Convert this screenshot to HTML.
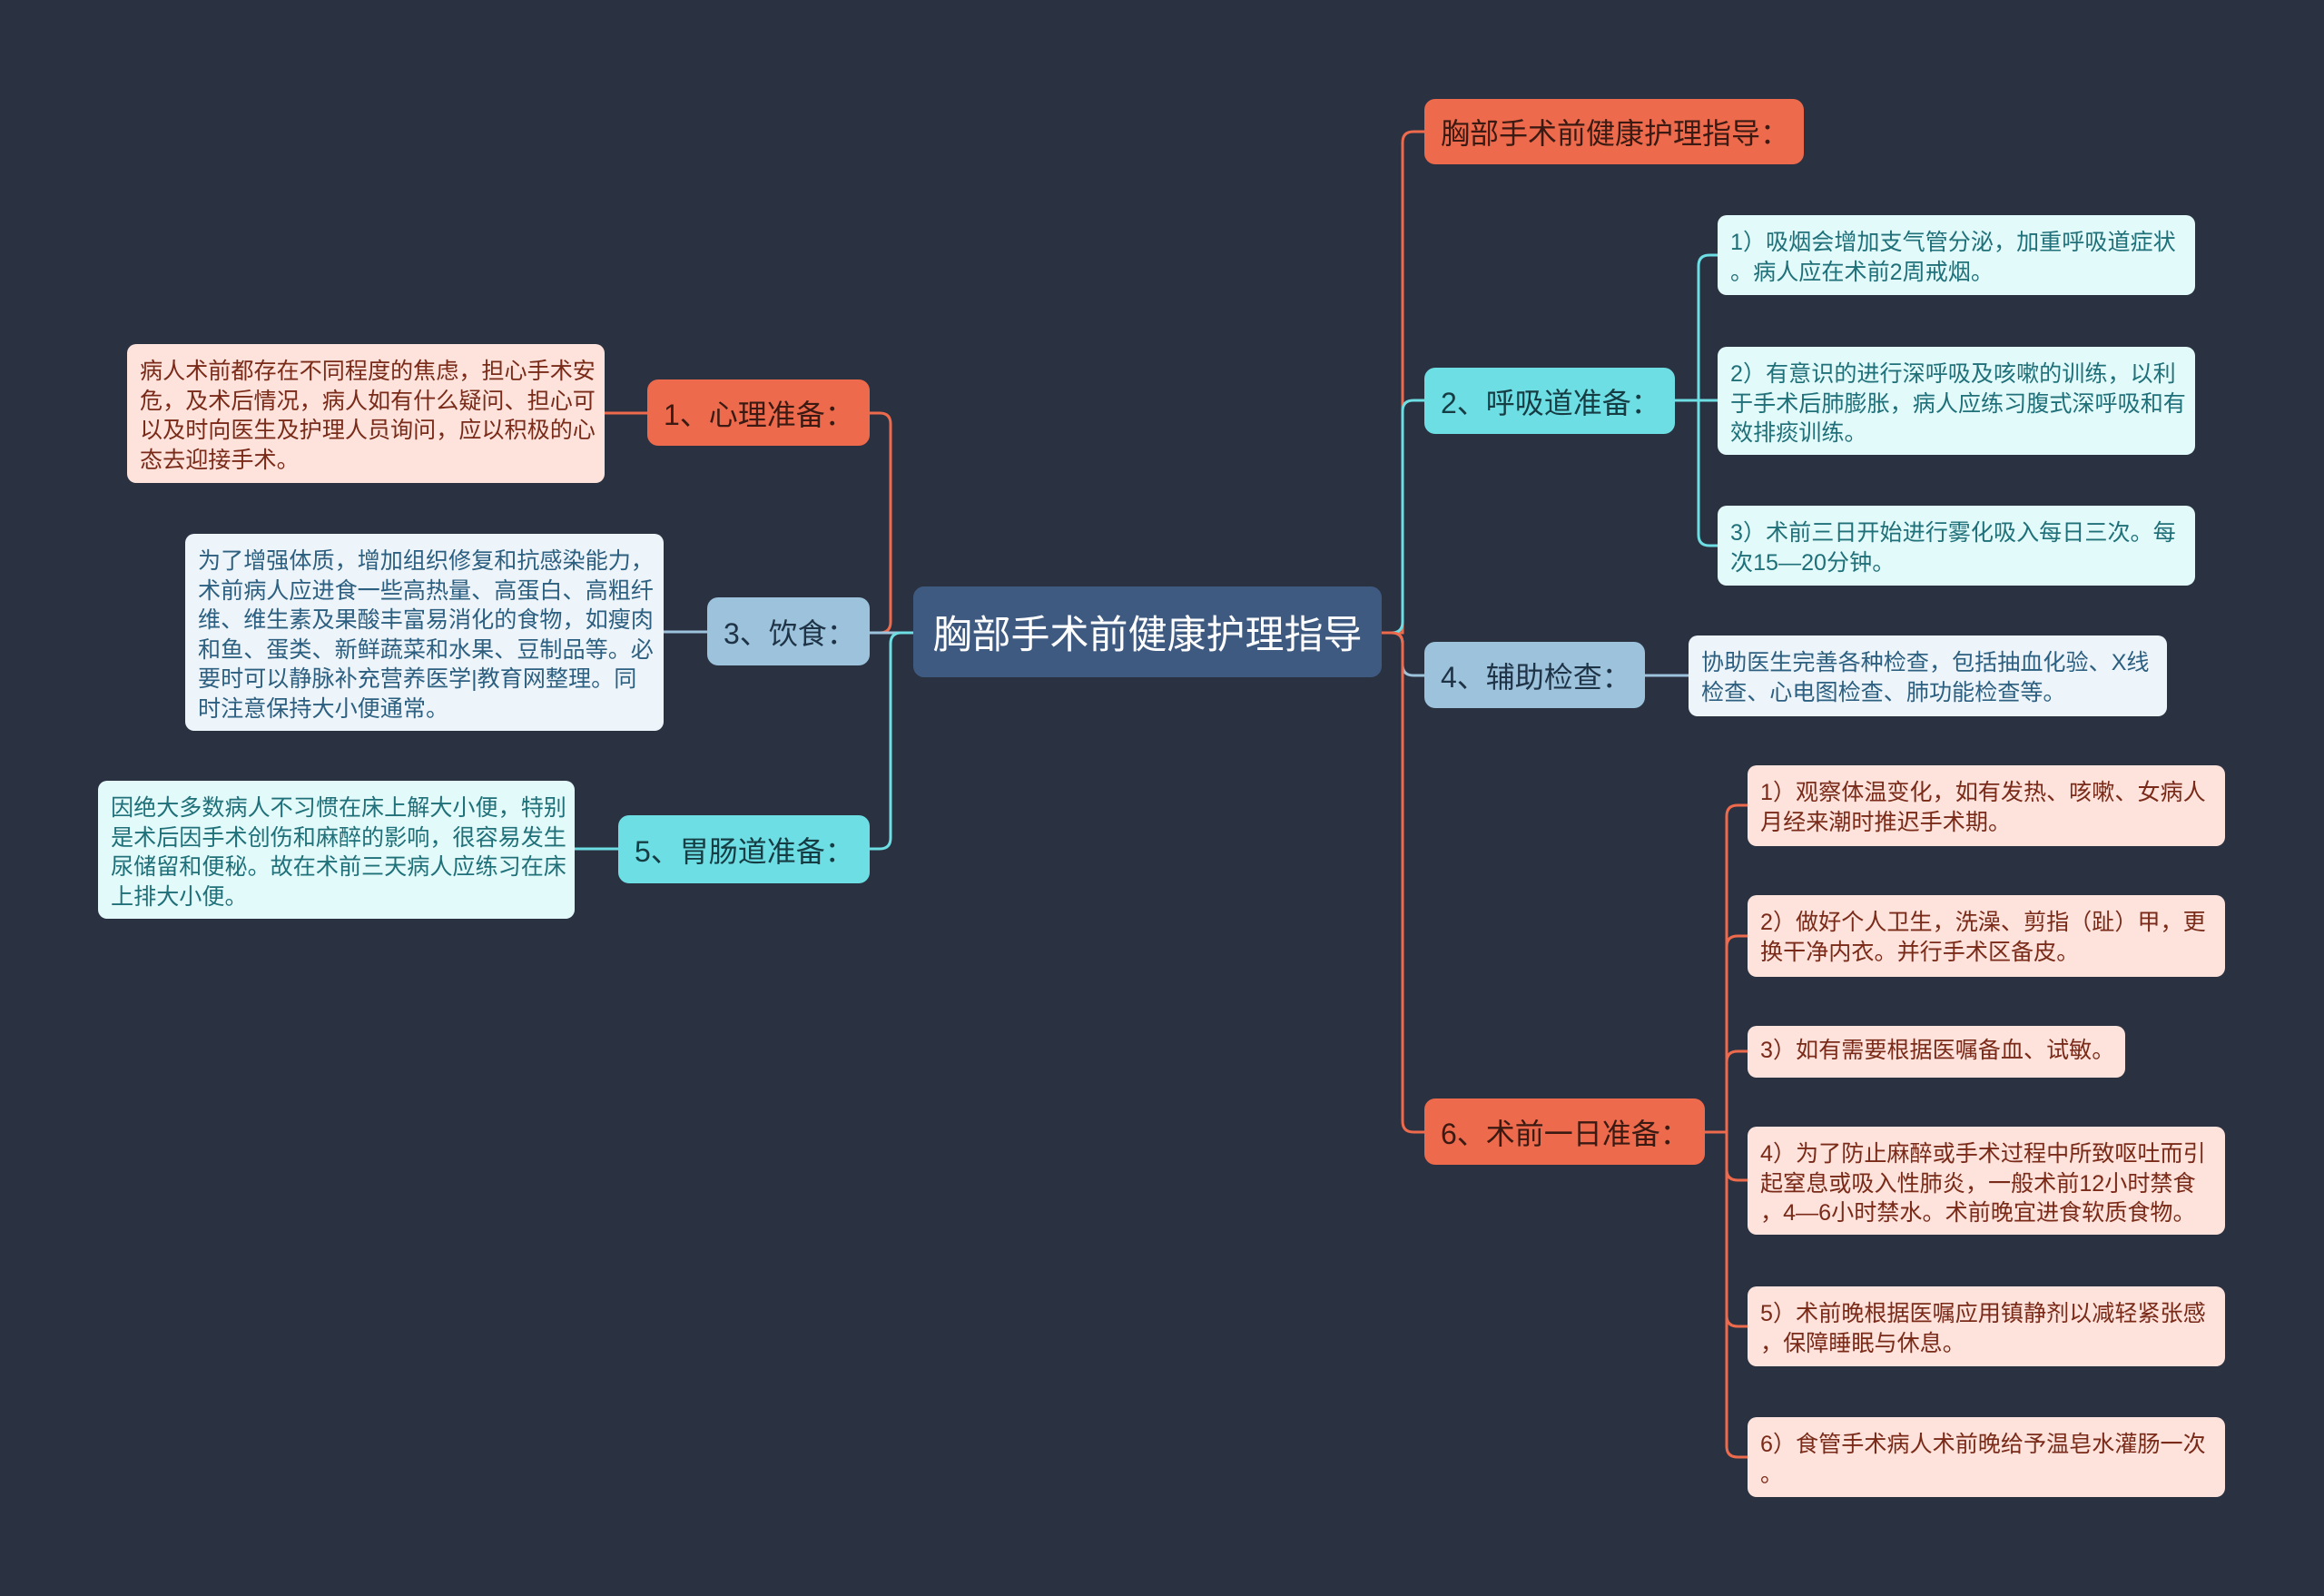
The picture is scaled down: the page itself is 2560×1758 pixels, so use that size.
<!DOCTYPE html>
<html><head><meta charset="utf-8">
<style>
html,body{margin:0;padding:0;}
body{width:2560px;height:1758px;background:#2a3140;position:relative;overflow:hidden;font-family:"Liberation Sans","Noto Sans CJK SC",sans-serif;}
.n{position:absolute;box-sizing:border-box;border-radius:12px;display:flex;align-items:center;white-space:nowrap;}
.t{position:absolute;box-sizing:border-box;border-radius:10px;padding:14px 14px 0 14px;font-size:25.1px;line-height:32.6px;white-space:nowrap;}
.o{background:#ee6a4d;color:#3a1a12;font-size:32px;padding-left:18px;}
.c{background:#6ddfe4;color:#163c44;font-size:32px;padding-left:18px;}
.b{background:#9dc2dc;color:#1f3346;font-size:32px;padding-left:18px;}
.po{background:#fde3dc;color:#7a2a18;}
.pc{background:#e3fafa;color:#1f7079;}
.pb{background:#eef5fa;color:#2c5f80;}
svg{position:absolute;left:0;top:0;}
</style></head><body>
<svg width="2560" height="1758" fill="none" stroke-width="3">
<path d="M1006 697 H969 Q981 697 981 685 V467 Q981 455 969 455 H958" stroke="#ee6a4d"/>
<path d="M1006 697 H958" stroke="#9dc2dc"/>
<path d="M1006 697 H993 Q981 697 981 709 V923 Q981 935 969 935 H958" stroke="#6ddfe4"/>
<path d="M713 455 H666" stroke="#ee6a4d"/>
<path d="M779 696 H731" stroke="#9dc2dc"/>
<path d="M681 935 H633" stroke="#6ddfe4"/>
<path d="M1522 697 H1545 V157 Q1545 145 1557 145 H1569" stroke="#ee6a4d"/>
<path d="M1522 697 H1533 Q1545 697 1545 685 V453 Q1545 441 1557 441 H1569" stroke="#6ddfe4"/>
<path d="M1522 697 H1533 Q1545 697 1545 709 V732 Q1545 744 1557 744 H1569" stroke="#9dc2dc"/>
<path d="M1522 697 H1533 Q1545 697 1545 709 V1235 Q1545 1247 1557 1247 H1569" stroke="#ee6a4d"/>
<path d="M1845 441 H1871 V293 Q1871 281 1883 281 H1892" stroke="#6ddfe4"/>
<path d="M1845 441 H1892" stroke="#6ddfe4"/>
<path d="M1845 441 H1871 V589 Q1871 601 1883 601 H1892" stroke="#6ddfe4"/>
<path d="M1812 744 H1860" stroke="#9dc2dc"/>
<g stroke="#ee6a4d">
<path d="M1878 1247 H1902 V899 Q1902 887 1914 887 H1925"/>
<path d="M1878 1247 H1902 V1043 Q1902 1031 1914 1031 H1925"/>
<path d="M1878 1247 H1902 V1170 Q1902 1158 1914 1158 H1925"/>
<path d="M1878 1247 H1902 V1288 Q1902 1300 1914 1300 H1925"/>
<path d="M1878 1247 H1902 V1449 Q1902 1461 1914 1461 H1925"/>
<path d="M1878 1247 H1902 V1593 Q1902 1605 1914 1605 H1925"/>
</g>
</svg>

<div class="n" style="left:1006px;top:646px;width:516px;height:100px;background:#3e5a80;color:#fff;font-size:43px;justify-content:center;">胸部手术前健康护理指导</div>

<div class="n o" style="left:713px;top:418px;width:245px;height:73px;">1、心理准备：</div>
<div class="t po" style="left:140px;top:379px;width:526px;height:153px;">病人术前都存在不同程度的焦虑，担心手术安<br>危，及术后情况，病人如有什么疑问、担心可<br>以及时向医生及护理人员询问，应以积极的心<br>态去迎接手术。</div>

<div class="n b" style="left:779px;top:658px;width:179px;height:75px;">3、饮食：</div>
<div class="t pb" style="left:204px;top:588px;width:527px;height:217px;">为了增强体质，增加组织修复和抗感染能力，<br>术前病人应进食一些高热量、高蛋白、高粗纤<br>维、维生素及果酸丰富易消化的食物，如瘦肉<br>和鱼、蛋类、新鲜蔬菜和水果、豆制品等。必<br>要时可以静脉补充营养医学|教育网整理。同<br>时注意保持大小便通常。</div>

<div class="n c" style="left:681px;top:898px;width:277px;height:75px;">5、胃肠道准备：</div>
<div class="t pc" style="left:108px;top:860px;width:525px;height:152px;">因绝大多数病人不习惯在床上解大小便，特别<br>是术后因手术创伤和麻醉的影响，很容易发生<br>尿储留和便秘。故在术前三天病人应练习在床<br>上排大小便。</div>

<div class="n o" style="left:1569px;top:109px;width:418px;height:72px;">胸部手术前健康护理指导：</div>

<div class="n c" style="left:1569px;top:405px;width:276px;height:73px;">2、呼吸道准备：</div>
<div class="t pc" style="left:1892px;top:237px;width:526px;height:88px;">1）吸烟会增加支气管分泌，加重呼吸道症状<br>。病人应在术前2周戒烟。</div>
<div class="t pc" style="left:1892px;top:382px;width:526px;height:119px;">2）有意识的进行深呼吸及咳嗽的训练，以利<br>于手术后肺膨胀，病人应练习腹式深呼吸和有<br>效排痰训练。</div>
<div class="t pc" style="left:1892px;top:557px;width:526px;height:88px;">3）术前三日开始进行雾化吸入每日三次。每<br>次15—20分钟。</div>

<div class="n b" style="left:1569px;top:707px;width:243px;height:73px;">4、辅助检查：</div>
<div class="t pb" style="left:1860px;top:700px;width:527px;height:89px;">协助医生完善各种检查，包括抽血化验、X线<br>检查、心电图检查、肺功能检查等。</div>

<div class="n o" style="left:1569px;top:1210px;width:309px;height:73px;">6、术前一日准备：</div>
<div class="t po" style="left:1925px;top:843px;width:526px;height:89px;">1）观察体温变化，如有发热、咳嗽、女病人<br>月经来潮时推迟手术期。</div>
<div class="t po" style="left:1925px;top:986px;width:526px;height:90px;">2）做好个人卫生，洗澡、剪指（趾）甲，更<br>换干净内衣。并行手术区备皮。</div>
<div class="t po" style="left:1925px;top:1130px;width:416px;height:57px;padding-top:11px;">3）如有需要根据医嘱备血、试敏。</div>
<div class="t po" style="left:1925px;top:1241px;width:526px;height:119px;">4）为了防止麻醉或手术过程中所致呕吐而引<br>起窒息或吸入性肺炎，一般术前12小时禁食<br>，4—6小时禁水。术前晚宜进食软质食物。</div>
<div class="t po" style="left:1925px;top:1417px;width:526px;height:88px;">5）术前晚根据医嘱应用镇静剂以减轻紧张感<br>，保障睡眠与休息。</div>
<div class="t po" style="left:1925px;top:1561px;width:526px;height:88px;">6）食管手术病人术前晚给予温皂水灌肠一次<br>。</div>
</body></html>
